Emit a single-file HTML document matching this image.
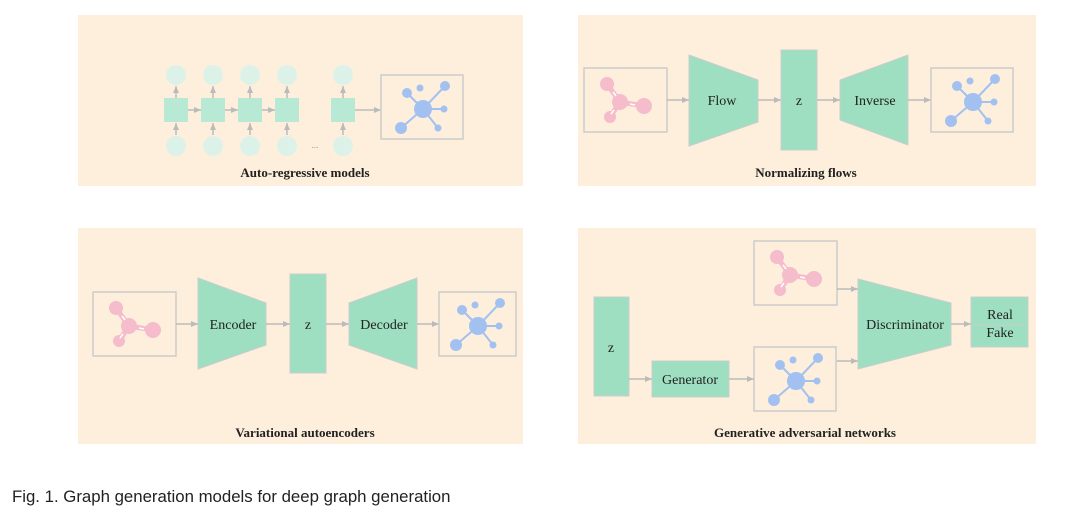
<!DOCTYPE html>
<html><head><meta charset="utf-8"><style>
html,body{margin:0;padding:0;background:#fff;width:1080px;height:520px;overflow:hidden}
svg{display:block}
.lbl{font-family:"Liberation Serif",serif;font-weight:bold;font-size:13px;fill:#222;text-anchor:middle}
.t{font-family:"Liberation Serif",serif;font-size:14px;fill:#222;text-anchor:middle}
</style></head><body>
<svg width="1080" height="520" viewBox="0 0 1080 520" xmlns="http://www.w3.org/2000/svg">
<defs>
<marker id="ah" markerWidth="8" markerHeight="8" refX="7" refY="4" orient="auto" markerUnits="userSpaceOnUse">
<path d="M0,1 L7,4 L0,7 z" fill="#bbb"/></marker>
<g id="mol">
<rect x="0" y="0" width="83" height="64" fill="none" stroke="#ccc" stroke-width="1.5"/>
<line x1="23" y1="16" x2="36" y2="34" stroke="#f5bccb" stroke-width="5"/>
<line x1="36" y1="34" x2="60" y2="38" stroke="#f5bccb" stroke-width="5"/>
<line x1="36" y1="34" x2="26" y2="49" stroke="#f5bccb" stroke-width="5"/>
<circle cx="23" cy="16" r="7" fill="#f5bccb"/>
<circle cx="36" cy="34" r="8" fill="#f5bccb"/>
<circle cx="60" cy="38" r="8" fill="#f5bccb"/>
<circle cx="26" cy="49" r="6" fill="#f5bccb"/>
<line x1="29" y1="24" x2="32" y2="28" stroke="#fff" stroke-width="1.5"/>
<line x1="46" y1="36" x2="51" y2="37" stroke="#fff" stroke-width="1.5"/>
<line x1="30" y1="42" x2="27" y2="46" stroke="#fff" stroke-width="1.5"/>
</g>
<g id="gr">
<g stroke="#a3c1f0" stroke-width="2">
<line x1="42" y1="34" x2="26" y2="18"/><line x1="42" y1="34" x2="64" y2="11"/>
<line x1="42" y1="34" x2="63" y2="34"/><line x1="42" y1="34" x2="57" y2="53"/>
<line x1="42" y1="34" x2="20" y2="53"/></g>
<g fill="#a3c1f0">
<circle cx="42" cy="34" r="9"/><circle cx="26" cy="18" r="5"/><circle cx="39" cy="13" r="3.5"/>
<circle cx="64" cy="11" r="5"/><circle cx="63" cy="34" r="3.5"/><circle cx="57" cy="53" r="3.5"/>
<circle cx="20" cy="53" r="6"/></g>
</g>
</defs>
<g fill="#fdefdc">
<rect x="78" y="15" width="445" height="171"/>
<rect x="578" y="15" width="458" height="171"/>
<rect x="78" y="228" width="445" height="216"/>
<rect x="578" y="228" width="458" height="216"/>
</g>
<!-- TL -->
<g stroke="#bbb" stroke-width="1.5" marker-end="url(#ah)">
<line x1="176" y1="99" x2="176" y2="86"/><line x1="213" y1="99" x2="213" y2="86"/><line x1="250" y1="99" x2="250" y2="86"/><line x1="287" y1="99" x2="287" y2="86"/><line x1="343" y1="99" x2="343" y2="86"/>
<line x1="176" y1="135" x2="176" y2="123"/><line x1="213" y1="135" x2="213" y2="123"/><line x1="250" y1="135" x2="250" y2="123"/><line x1="287" y1="135" x2="287" y2="123"/><line x1="343" y1="135" x2="343" y2="123"/>
<line x1="188" y1="110" x2="201" y2="110"/><line x1="225" y1="110" x2="238" y2="110"/><line x1="262" y1="110" x2="275" y2="110"/>
<line x1="355" y1="110" x2="381" y2="110"/>
</g>
<g fill="#dcf2e9">
<circle cx="176" cy="75" r="10"/><circle cx="213" cy="75" r="10"/><circle cx="250" cy="75" r="10"/><circle cx="287" cy="75" r="10"/><circle cx="343" cy="75" r="10"/>
<circle cx="176" cy="146" r="10"/><circle cx="213" cy="146" r="10"/><circle cx="250" cy="146" r="10"/><circle cx="287" cy="146" r="10"/><circle cx="343" cy="146" r="10"/>
</g>
<g fill="#b7e9d4">
<rect x="164" y="98" width="24" height="24"/><rect x="201" y="98" width="24" height="24"/><rect x="238" y="98" width="24" height="24"/><rect x="275" y="98" width="24" height="24"/><rect x="331" y="98" width="24" height="24"/>
</g>
<text x="315" y="148" font-family="Liberation Serif,serif" font-size="9" fill="#999" text-anchor="middle">...</text>
<rect x="381" y="75" width="82" height="64" fill="none" stroke="#ccc" stroke-width="1.5"/>
<use href="#gr" x="381" y="75"/>
<text class="lbl" x="305" y="177">Auto-regressive models</text>
<!-- TR -->
<use href="#mol" x="584" y="68"/>
<g fill="#9ddfc0" stroke="#ccc" stroke-width="1">
<polygon points="689,55 758,80 758,122 689,146"/>
<rect x="781" y="50" width="36" height="100"/>
<polygon points="840,80 908,55 908,145 840,120"/>
</g>
<g stroke="#bbb" stroke-width="1.5" marker-end="url(#ah)">
<line x1="667" y1="100" x2="689" y2="100"/><line x1="758" y1="100" x2="781" y2="100"/><line x1="817" y1="100" x2="840" y2="100"/><line x1="908" y1="100" x2="931" y2="100"/>
</g>
<text class="t" x="722" y="105">Flow</text><text class="t" x="799" y="105">z</text><text class="t" x="875" y="105">Inverse</text>
<rect x="931" y="68" width="82" height="64" fill="none" stroke="#ccc" stroke-width="1.5"/>
<use href="#gr" x="931" y="68"/>
<text class="lbl" x="806" y="177">Normalizing flows</text>
<!-- BL -->
<use href="#mol" x="93" y="292"/>
<g fill="#9ddfc0" stroke="#ccc" stroke-width="1">
<polygon points="198,278 266,303 266,345 198,369"/>
<rect x="290" y="274" width="36" height="99"/>
<polygon points="349,303 417,278 417,369 349,345"/>
</g>
<g stroke="#bbb" stroke-width="1.5" marker-end="url(#ah)">
<line x1="176" y1="324" x2="198" y2="324"/><line x1="266" y1="324" x2="290" y2="324"/><line x1="326" y1="324" x2="349" y2="324"/><line x1="417" y1="324" x2="439" y2="324"/>
</g>
<text class="t" x="233" y="329">Encoder</text><text class="t" x="308" y="329">z</text><text class="t" x="384" y="329">Decoder</text>
<rect x="439" y="292" width="77" height="64" fill="none" stroke="#ccc" stroke-width="1.5"/>
<use href="#gr" x="436" y="292"/>
<text class="lbl" x="305" y="437">Variational autoencoders</text>
<!-- BR -->
<g fill="#9ddfc0" stroke="#ccc" stroke-width="1">
<rect x="594" y="297" width="35" height="99"/>
<rect x="652" y="361" width="77" height="36"/>
<polygon points="858,279 951,303 951,345 858,369"/>
<rect x="971" y="297" width="57" height="50"/>
</g>
<line x1="971" y1="325" x2="1028" y2="325" stroke="#ccc" stroke-width="1"/>
<use href="#mol" x="754" y="241"/>
<rect x="754" y="347" width="82" height="64" fill="none" stroke="#ccc" stroke-width="1.5"/>
<use href="#gr" x="754" y="347"/>
<g stroke="#bbb" stroke-width="1.5" marker-end="url(#ah)">
<line x1="629" y1="379" x2="652" y2="379"/><line x1="729" y1="379" x2="754" y2="379"/>
<line x1="837" y1="289" x2="858" y2="289"/><line x1="837" y1="361" x2="858" y2="361"/>
<line x1="951" y1="324" x2="971" y2="324"/>
</g>
<text class="t" x="611" y="352">z</text>
<text class="t" x="690" y="384">Generator</text>
<text class="t" x="905" y="329">Discriminator</text>
<text class="t" x="1000" y="319">Real</text>
<text class="t" x="1000" y="337">Fake</text>
<text class="lbl" x="805" y="437">Generative adversarial networks</text>
<text x="12" y="502" font-family="Liberation Sans,sans-serif" font-size="16.8" fill="#222">Fig. 1. Graph generation models for deep graph generation</text>
</svg>
</body></html>
